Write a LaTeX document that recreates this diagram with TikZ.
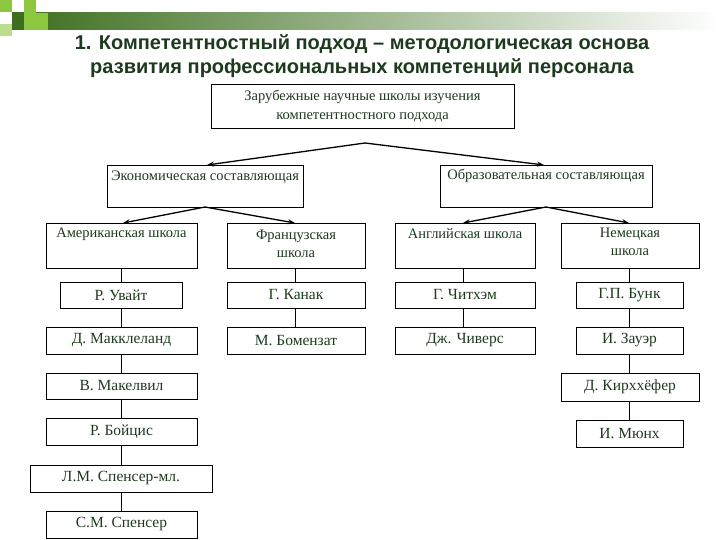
\documentclass[tikz,border=0pt]{standalone}
\usepackage{fontspec}
\setmainfont{Liberation Serif}
\newfontfamily\titlefont{Liberation Sans}
\usetikzlibrary{arrows.meta}
\definecolor{tg}{HTML}{1E3A1E}
\definecolor{lg}{HTML}{8DC63F}
\definecolor{dg}{HTML}{3C6E1E}
\tikzset{
 bx/.style={draw,line width=0.9pt,inner sep=0pt},
 tx/.style={font=\fontsize{14.5}{18}\selectfont,text=tg,align=center,inner sep=0pt},
 nm/.style={tx,font=\fontsize{15.5}{18}\selectfont},
 ar/.style={line width=1.3pt,-{Stealth[length=7pt,width=5pt]}},
 ln/.style={line width=0.9pt}
}
\newcommand\bbox[6]{% name, x1,y1,x2,y2, text (centered)
 \node[bx,minimum width={#4-#2},minimum height={#5-#3}] (#1) at ({(#2+#4)/2},{(#3+#5)/2}) {};
 \node[nm] (#1t) at (#1) {#6};}
\newcommand\tbox[7]{% name, x1,y1,x2,y2, text, text y
 \node[bx,minimum width={#4-#2},minimum height={#5-#3}] (#1) at ({(#2+#4)/2},{(#3+#5)/2}) {};
 \node[tx,anchor=north] (#1t) at ({(#2+#4)/2},#7) {#6};}
\begin{document}
\begin{tikzpicture}[x=1pt,y=-1pt]
\useasboundingbox (0,0) rectangle (720,540);
% header decoration
\shade[left color=dg,right color=white] (12,13) rectangle (720,30) coordinate (hb);
\fill[lg] (0,0) rectangle (12,12);
\fill[lg] (24,0) rectangle (36,12);
\fill[dg] (12,12) rectangle (24,24);
\fill[lg] (24,12) rectangle (36,30);
\fill[lg!60] (0,24) rectangle (12,36);
\fill[lg] (36,13) rectangle (48,30);
% title
\node[font=\titlefont\bfseries\fontsize{20}{23.5}\selectfont,text=tg,align=center] (title) at (362,56)
 {1. Компетентностный подход – методологическая основа\\развития профессиональных компетенций персонала};
\node[bx,minimum width=303,minimum height=44] (top) at (362.5,106) {};
\node[tx,font=\fontsize{14.5}{19}\selectfont] (topt) at (top) {Зарубежные научные школы изучения\\компетентностного подхода};
\coordinate (j) at (365,143);
\tbox{eco}{107}{165}{303}{207}{Экономическая составляющая}{171}
\tbox{edu}{440}{165}{652}{207}{Образовательная составляющая}{169}
\draw[ar] (j) -- (207,165);
\draw[ar] (j) -- (544,165);
\tbox{am}{46}{223}{197}{268}{Американская школа}{228}
\tbox{fr}{227}{223}{365}{268}{Французская\\школа}{230}
\tbox{en}{395}{223}{535}{268}{Английская школа}{228}
\tbox{ge}{561}{223}{699}{268}{Немецкая\\школа}{228}
\coordinate (je) at (205,207);
\coordinate (jd) at (546,207);
\draw[ar] (je) -- (123,223);
\draw[ar] (je) -- (295,223);
\draw[ar] (jd) -- (463,223);
\draw[ar] (jd) -- (629,223);
\bbox{a1}{60}{282}{182}{308}{Р. Увайт}
\bbox{a2}{46}{327}{197}{354}{Д. Макклеланд}
\bbox{a3}{46}{373}{197}{399}{В. Макелвил}
\bbox{a4}{46}{418}{197}{445}{Р. Бойцис}
\bbox{a5}{30}{465}{212}{492}{Л.М. Спенсер-мл.}
\bbox{a6}{46}{511}{197}{538}{С.М. Спенсер}
\bbox{f1}{227}{282}{365}{308}{Г. Канак}
\bbox{f2}{227}{327}{365}{354}{М. Бомензат}
\bbox{e1}{395}{282}{535}{308}{Г. Читхэм}
\bbox{e2}{395}{327}{535}{354}{Дж. Чиверс}
\bbox{g1}{576}{282}{683}{308}{Г.П. Бунк}
\bbox{g2}{576}{327}{683}{354}{И. Зауэр}
\bbox{g3}{561}{373}{699}{401}{Д. Кирххёфер}
\bbox{g4}{576}{420}{683}{447}{И. Мюнх}
\draw[ln] (am.south -| 121,0) -- (a1.north -| 121,0);
\foreach \p/\q in {a1/a2,a2/a3,a3/a4,a4/a5,a5/a6}{\draw[ln] (\p.south -| 121,0) -- (\q.north -| 121,0);}
\draw[ln] (fr.south -| 295,0) -- (f1.north -| 295,0);
\draw[ln] (f1.south -| 295,0) -- (f2.north -| 295,0);
\draw[ln] (en.south -| 463,0) -- (e1.north -| 463,0);
\draw[ln] (e1.south -| 463,0) -- (e2.north -| 463,0);
\foreach \p/\q in {ge/g1,g1/g2,g2/g3,g3/g4}{\draw[ln] (\p.south -| 629,0) -- (\q.north -| 629,0);}
\end{tikzpicture}
\end{document}
